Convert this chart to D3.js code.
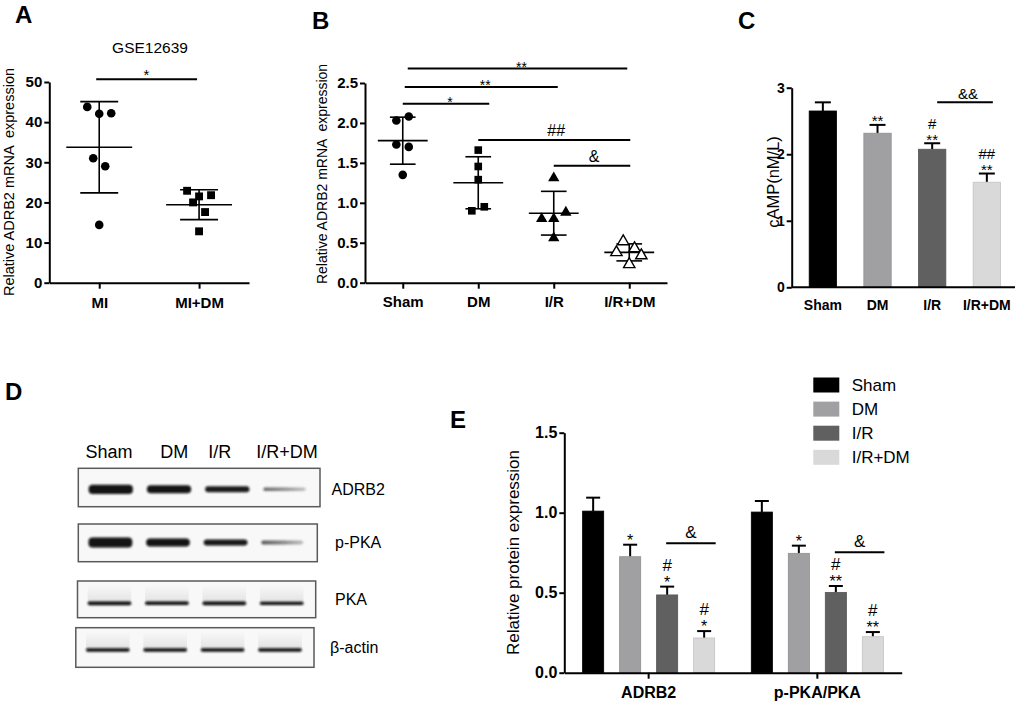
<!DOCTYPE html>
<html><head><meta charset="utf-8">
<script src="https://cdn.jsdelivr.net/npm/d3@7"></script>
<style>
body{margin:0;background:#fff}
svg{display:block}
text{font-family:Arial,"Liberation Sans",Helvetica,sans-serif;fill:#000}
</style>
</head><body>
<svg id="fig" width="1020" height="710"></svg>
<script>
// ---------------- DATA ----------------
// Panel A (GSE12639)
const groupsA = ["MI", "MI+DM"];
const valuesMI = [43.8, 42.1, 42.2, 31.0, 29.0, 14.4];
const valuesMIDM = [22.9, 20.0, 21.5, 21.8, 17.6, 12.8];
const ticksA = [0, 10, 20, 30, 40, 50];

// Panel B (qPCR)
const groups = ["Sham", "DM", "I/R", "I/R+DM"];
const valuesSham = [2.03, 2.08, 1.73, 1.70, 1.35];
const valuesDM = [1.66, 1.455, 1.29, 0.90, 0.95];
const valuesIR = [1.31, 0.80, 0.80, 0.88, 0.56];
const valuesIRDM = [0.517, 0.38, 0.43, 0.34, 0.23];
const ticksB = [0, 0.5, 1.0, 1.5, 2.0, 2.5];

// Panel C (cAMP)
const campMean = [2.65, 2.316, 2.075, 1.58];
const campErr = [0.13, 0.125, 0.09, 0.13];
const campMarks = [[], ["**"], ["**", "#"], ["**", "##"]];
const ticksC = [0, 1, 2, 3];

// Panel D (western blot)
const blotRows = ["ADRB2", "p-PKA", "PKA", "β-actin"];
const bandADRB2 = [0.88, 0.77, 0.57, 0.32];
const bandPPKA = [0.97, 0.78, 0.58, 0.38];
const bandPKA = [0.36, 0.34, 0.36, 0.30];
const bandActin = [0.32, 0.32, 0.32, 0.34];

// Panel E (relative protein)
const proteinsE = ["ADRB2", "p-PKA/PKA"];
const adrb2Mean = [1.01, 0.725, 0.486, 0.217];
const adrb2Err = [0.084, 0.075, 0.052, 0.043];
const ppkaMean = [1.004, 0.746, 0.502, 0.225];
const ppkaErr = [0.069, 0.048, 0.040, 0.029];
const adrb2Marks = [[], ["*"], ["*", "#"], ["*", "#"]];
const ppkaMarks = [[], ["*"], ["**", "#"], ["**", "#"]];
const ticksE = [0, 0.5, 1.0, 1.5];

const colors = ["#000000", "#a0a0a3", "#606060", "#d9d9d9"];

// ---------------- HELPERS ----------------
const svg = d3.select("#fig");

function styleAxis(g, fs, bold = true) {
  g.attr("font-size", null).attr("font-family", null);
  g.select(".domain").attr("stroke", "#000").attr("stroke-width", 2);
  g.selectAll(".tick line").attr("stroke", "#000").attr("stroke-width", 2);
  g.selectAll(".tick text").attr("font-size", fs).attr("font-weight", bold ? "bold" : "normal").attr("fill", "#000");
}
function txt(x, y, s, fs, opts = {}) {
  return svg.append("text").attr("x", x).attr("y", y).attr("font-size", fs)
    .attr("text-anchor", opts.anchor || "middle")
    .attr("font-weight", opts.bold ? "bold" : "normal").text(s);
}
function vLabel(x, cy, s, fs) {
  return svg.append("text").attr("transform", `translate(${x},${cy}) rotate(-90)`)
    .attr("text-anchor", "middle").attr("font-size", fs).style("white-space", "pre").text(s);
}
function hline(x1, x2, y, w = 2) {
  svg.append("line").attr("x1", x1).attr("x2", x2).attr("y1", y).attr("y2", y)
    .attr("stroke", "#000").attr("stroke-width", w);
}

// ---------------- PANEL LETTERS ----------------
txt(15, 23, "A", 24, {anchor: "start", bold: true});
txt(312, 29, "B", 24, {anchor: "start", bold: true});
txt(738, 29, "C", 24, {anchor: "start", bold: true});
txt(5, 400, "D", 24, {anchor: "start", bold: true});
txt(450, 428, "E", 24, {anchor: "start", bold: true});

// ---------------- PANEL A ----------------
(function () {
  const y = d3.scaleLinear().domain([0, 50]).range([282.7, 82]);
  const x = d3.scalePoint().domain(groupsA).range([49.3, 249]).padding(0.5);
  const step = x.step();
  const sets = [valuesMI, valuesMIDM];
  const jitter = [[-0.12, 0, 0.12, -0.06, 0.06, 0], [-0.12, -0.06, 0, 0.12, 0.06, 0]];
  const shapes = [d3.symbolCircle, d3.symbolSquare];

  sets.forEach((vals, i) => {
    const cx = x(groupsA[i]);
    const m = d3.mean(vals), sd = d3.deviation(vals);
    svg.append("line").attr("x1", cx).attr("x2", cx).attr("y1", y(m + sd)).attr("y2", y(m - sd)).attr("stroke", "#000").attr("stroke-width", 1.6);
    hline(cx - step * 0.33, cx + step * 0.33, y(m), 1.6);
    hline(cx - step * 0.19, cx + step * 0.19, y(m + sd), 1.6);
    hline(cx - step * 0.19, cx + step * 0.19, y(m - sd), 1.6);
    vals.forEach((v, j) => {
      svg.append("path").attr("d", d3.symbol().type(shapes[i]).size(i === 0 ? 58 : 62)())
        .attr("transform", `translate(${cx + jitter[i][j] * step},${y(v)})`).attr("fill", "#000");
    });
  });

  const gy = svg.append("g").attr("transform", "translate(49.3,0)")
    .call(d3.axisLeft(y).tickValues(ticksA).tickFormat(d3.format("d")).tickSize(5).tickPadding(2).tickSizeOuter(0));
  styleAxis(gy, 15);
  const gx = svg.append("g").attr("transform", "translate(0,282.7)")
    .call(d3.axisBottom(x).tickSize(6).tickPadding(5).tickSizeOuter(0));
  styleAxis(gx, 15);
  gx.selectAll(".tick text").attr("dy", "0.95em");

  vLabel(14, 182, "Relative ADRB2 mRNA  expression", 14.5);
  txt(150, 53, "GSE12639", 15.5);
  hline(x("MI") - 3, x("MI+DM") - 2, y(50.7), 2);
  txt(146.5, y(50.7) + 0.5, "*", 15);
})();

// ---------------- PANEL B ----------------
(function () {
  const y = d3.scaleLinear().domain([0, 2.5]).range([282.7, 83]);
  const x = d3.scalePoint().domain(groups).range([365, 667]).padding(0.5);
  const step = x.step();
  const sets = [valuesSham, valuesDM, valuesIR, valuesIRDM];
  const jitter = [[-0.085, 0.08, -0.085, 0.08, 0], [0, 0, 0, -0.085, 0.08], [0, -0.16, 0, 0.16, 0], [-0.08, -0.17, 0.07, 0.16, 0]];
  const shapes = [d3.symbolCircle, d3.symbolSquare, d3.symbolTriangle, d3.symbolTriangle];

  sets.forEach((vals, i) => {
    const cx = x(groups[i]);
    const m = d3.mean(vals), sd = d3.deviation(vals);
    svg.append("line").attr("x1", cx).attr("x2", cx).attr("y1", y(m + sd)).attr("y2", y(m - sd)).attr("stroke", "#000").attr("stroke-width", 1.6);
    hline(cx - step * 0.33, cx + step * 0.33, y(m), 1.6);
    hline(cx - step * 0.17, cx + step * 0.17, y(m + sd), 1.6);
    hline(cx - step * 0.17, cx + step * 0.17, y(m - sd), 1.6);
    vals.forEach((v, j) => {
      const open = i === 3;
      svg.append("path").attr("d", d3.symbol().type(shapes[i]).size(i >= 2 ? 56 : 58)())
        .attr("transform", `translate(${cx + jitter[i][j] * step},${y(v)})`)
        .attr("fill", open ? "#fff" : "#000").attr("stroke", open ? "#000" : "none").attr("stroke-width", 1.4);
    });
  });

  const gy = svg.append("g").attr("transform", "translate(365,0)")
    .call(d3.axisLeft(y).tickValues(ticksB).tickFormat(d3.format(".1f")).tickSize(5).tickPadding(2).tickSizeOuter(0));
  styleAxis(gy, 15);
  const gx = svg.append("g").attr("transform", "translate(0,282.7)")
    .call(d3.axisBottom(x).tickSize(6).tickPadding(4).tickSizeOuter(0));
  styleAxis(gx, 15);
  gx.selectAll(".tick text").attr("dy", "0.95em");

  vLabel(327, 174, "Relative ADRB2 mRNA  expression", 14);

  // significance brackets
  const comps = [
    ["Sham", "DM", 2.24, "*", 0, 11, "star"],
    ["Sham", "I/R", 2.45, "**", 2, 4, "star"],
    ["Sham", "I/R+DM", 2.68, "**", 5, -2, "star"],
    ["DM", "I/R+DM", 1.785, "##", 0, 1, "hash"],
    ["I/R", "I/R+DM", 1.465, "&", 0, 1, "hash"]
  ];
  comps.forEach(c => {
    const x1 = x(c[0]) + c[4], x2 = x(c[1]) + c[5], yy = y(c[2]);
    hline(x1, x2, yy, 2);
    if (c[6] === "star") txt((x1 + x2) / 2 + 4, yy + 3, c[3], 14);
    else txt((x1 + x2) / 2 + 2, yy - 4, c[3], 16);
  });
})();

// ---------------- PANEL C ----------------
(function () {
  const y = d3.scaleLinear().domain([0, 3]).range([287.3, 87.7]);
  const x = d3.scaleBand().domain(groups).range([791.7, 1018]).paddingInner(0.5).paddingOuter(0.32);
  const bw = x.bandwidth();
  groups.forEach((g, i) => {
    const cx = x(g) + bw / 2;
    const top = y(campMean[i] + campErr[i]);
    svg.append("line").attr("x1", cx).attr("x2", cx).attr("y1", y(campMean[i])).attr("y2", top).attr("stroke", "#000").attr("stroke-width", 2);
    hline(cx - 8, cx + 8, top, 2);
    svg.append("rect").attr("x", x(g)).attr("y", y(campMean[i])).attr("width", bw)
      .attr("height", y(0) - y(campMean[i])).attr("fill", colors[i])
      .attr("stroke", d3.color(colors[i]).darker(0.3)).attr("stroke-width", 0.8);
    let base = top + 1.5;
    campMarks[i].forEach(m => { txt(cx, base, m, 15); base -= 16; });
  });
  const gy = svg.append("g").attr("transform", "translate(791.7,0)")
    .call(d3.axisLeft(y).tickValues(ticksC).tickFormat(d3.format("d")).tickSize(5).tickPadding(2).tickSizeOuter(0));
  styleAxis(gy, 14);
  const gx = svg.append("g").attr("transform", "translate(0,287.3)")
    .call(d3.axisBottom(x).tickSize(0).tickPadding(9).tickSizeOuter(0));
  gx.select(".domain").attr("d", "M791.7,0H1015");
  styleAxis(gx, 14);
  gx.selectAll(".tick text").attr("dy", "0.95em");

  vLabel(779, 182, "cAMP(nM/L)", 16.5);

  const x1 = x("I/R") + bw / 2 + 5, x2 = x("I/R+DM") + bw / 2 + 6;
  hline(x1, x2, 102.3, 2);
  txt((x1 + x2) / 2 + 3, 98.5, "&&", 15);
})();

// ---------------- PANEL D ----------------
(function () {
  const defs = svg.append("defs");
  defs.append("filter").attr("id", "blur").attr("x", "-20%").attr("y", "-100%").attr("width", "140%").attr("height", "300%")
    .append("feGaussianBlur").attr("stdDeviation", 1.1);
  const smear = defs.append("linearGradient").attr("id", "smear").attr("x1", 0).attr("x2", 0).attr("y1", 0).attr("y2", 1);
  smear.append("stop").attr("offset", "0%").attr("stop-color", "#000").attr("stop-opacity", 0.0);
  smear.append("stop").attr("offset", "100%").attr("stop-color", "#000").attr("stop-opacity", 0.09);
  const fade = defs.append("linearGradient").attr("id", "fade");
  fade.append("stop").attr("offset", "0%").attr("stop-color", "#111").attr("stop-opacity", 0.95);
  fade.append("stop").attr("offset", "55%").attr("stop-color", "#222").attr("stop-opacity", 0.7);
  fade.append("stop").attr("offset", "100%").attr("stop-color", "#444").attr("stop-opacity", 0.45);

  const boxes = [
    {x: 78.3, y: 468.3, w: 241.7, h: 38.4, by: 21, lx: 331.5, ly: 495},
    {x: 78.3, y: 524, w: 239, h: 37.7, by: 18.5, lx: 335, ly: 548},
    {x: 77.5, y: 581, w: 238.2, h: 36.7, by: 22.3, lx: 335, ly: 605},
    {x: 75.8, y: 627.7, w: 238.2, h: 39.6, by: 22.3, lx: 330, ly: 653}
  ];
  const bands = [bandADRB2, bandPPKA, bandPKA, bandActin];
  const thick = d3.scaleLinear().domain([0, 1]).range([0, 10.5]);
  const opac = d3.scaleLinear().domain([0.3, 0.6]).range([0.65, 0.97]).clamp(true);

  boxes.forEach((b, r) => {
    svg.append("rect").attr("x", b.x).attr("y", b.y).attr("width", b.w).attr("height", b.h)
      .attr("fill", "#f8f8f8").attr("stroke", "#5a5a5a").attr("stroke-width", 1.5);
    const lx = d3.scaleBand().domain(groups).range([b.x + 1, b.x + b.w - 3]).paddingInner(0.24).paddingOuter(0.16);
    groups.forEach((g, i) => {
      const t = thick(bands[r][i]);
      const cy = b.y + b.by;
      if (r >= 2) {
        svg.append("rect").attr("x", lx(g)).attr("y", b.y + 4).attr("width", lx.bandwidth())
          .attr("height", cy - b.y - 4).attr("fill", "url(#smear)");
      }
      const isWeak = r < 2 && i === 3;
      svg.append("rect").attr("x", lx(g)).attr("y", cy - t / 2).attr("width", lx.bandwidth() - (isWeak ? 2 : 0))
        .attr("height", t).attr("rx", Math.min(t / 2, 4))
        .attr("fill", isWeak ? "url(#fade)" : "#0a0a0a")
        .attr("opacity", r < 2 ? opac(bands[r][i]) : 1)
        .attr("filter", "url(#blur)");
    });
    txt(b.lx, b.ly, blotRows[r], 16, {anchor: "start"});
  });

  const laneLabelX = d3.scalePoint().domain(groups).range([109, 287]);
  const laneOffsets = [0, 6, -8, 0];
  groups.forEach((g, i) => txt(laneLabelX(g) + laneOffsets[i], 458, g, 18));
})();

// ---------------- PANEL E ----------------
(function () {
  const y = d3.scaleLinear().domain([0, 1.5]).range([672.7, 432.7]);
  const x0 = d3.scaleBand().domain(proteinsE).range([564.3, 901.7]).padding(0);
  const gw = x0.bandwidth();
  const x1 = d3.scaleBand().domain(groups).range([gw / 2 - 74, gw / 2 + 74]).paddingInner(0.43).paddingOuter(0.215);
  const bw = x1.bandwidth();
  const means = [adrb2Mean, ppkaMean], errs = [adrb2Err, ppkaErr], marks = [adrb2Marks, ppkaMarks];

  proteinsE.forEach((p, pi) => {
    groups.forEach((g, i) => {
      const bx = x0(p) + x1(g), cx = bx + bw / 2;
      const top = y(means[pi][i] + errs[pi][i]);
      svg.append("line").attr("x1", cx).attr("x2", cx).attr("y1", y(means[pi][i])).attr("y2", top).attr("stroke", "#000").attr("stroke-width", 2);
      hline(cx - 7, cx + 7, top, 2);
      svg.append("rect").attr("x", bx).attr("y", y(means[pi][i])).attr("width", bw)
        .attr("height", y(0) - y(means[pi][i])).attr("fill", colors[i])
        .attr("stroke", d3.color(colors[i]).darker(0.3)).attr("stroke-width", 0.8);
      let base = top + 1;
      marks[pi][i].forEach(m => {
        if (m.startsWith("*")) { txt(cx, base, m, 16); base -= 17; }
        else { txt(cx, base, m, 17); base -= 17; }
      });
    });
    const xa = x0(p) + x1("I/R") + bw / 2 - 1, xb = x0(p) + x1("I/R+DM") + bw + 1;
    const ly = pi === 0 ? 543.3 : 552.3;
    hline(xa, xb, ly, 2);
    txt((xa + xb) / 2, ly - 5.5, "&", 17);
  });

  const gy = svg.append("g").attr("transform", "translate(564.3,0)")
    .call(d3.axisLeft(y).tickValues(ticksE).tickFormat(d3.format(".1f")).tickSize(5).tickPadding(2).tickSizeOuter(0));
  styleAxis(gy, 16);
  const gx = svg.append("g").attr("transform", "translate(0,672.7)")
    .call(d3.axisBottom(x0).tickSize(6).tickPadding(4).tickSizeOuter(0));
  styleAxis(gx, 16);
  gx.selectAll(".tick text").attr("dy", "0.95em");

  vLabel(519, 552.5, "Relative protein expression", 17);

  const ly = d3.scalePoint().domain(groups).range([385, 457.3]);
  groups.forEach((g, i) => {
    svg.append("rect").attr("x", 813.3).attr("y", ly(g) - 7.5).attr("width", 26).attr("height", 15).attr("fill", colors[i]);
    txt(851.7, ly(g) + 6, g, 17, {anchor: "start"});
  });
})();
</script>
</body></html>
